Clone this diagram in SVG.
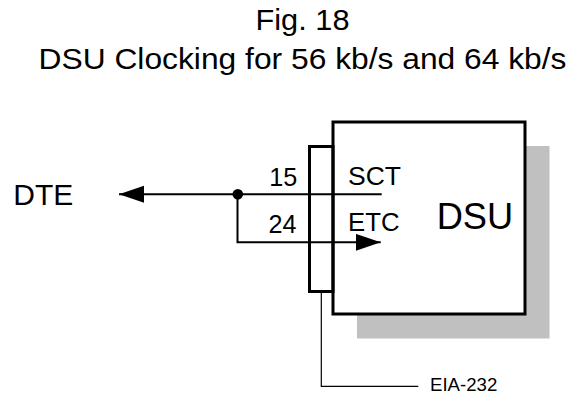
<svg xmlns="http://www.w3.org/2000/svg" width="570" height="394" viewBox="0 0 570 394">
<style>
text{font-family:"Liberation Sans",Arial,sans-serif;fill:#000}
.thick{fill:none;stroke:#000;stroke-width:3}
.box{fill:#fff;stroke:#000;stroke-width:3}
.wire{fill:none;stroke:#000;stroke-width:2}
.thin{fill:none;stroke:#000;stroke-width:1.2}
</style>
<defs>
<marker id="ah" markerUnits="userSpaceOnUse" markerWidth="26" markerHeight="18" refX="25" refY="8.5" orient="auto">
<path d="M0,0 L25,8.5 L0,17 Z" fill="#000"/>
</marker>
</defs>
<rect width="570" height="394" fill="#fff"/>
<g id="title">
<text x="302.5" y="30" font-size="30" text-anchor="middle" textLength="94" lengthAdjust="spacingAndGlyphs">Fig. 18</text>
<text x="302.5" y="69.3" font-size="30" text-anchor="middle" textLength="528" lengthAdjust="spacingAndGlyphs">DSU Clocking for 56 kb/s and 64 kb/s</text>
</g>
<g id="dsu">
<rect x="357" y="146" width="192.5" height="192.5" fill="#c0c0c0"/>
<rect x="333" y="122" width="192" height="192" class="box"/>
<text x="436.7" y="229" font-size="36" textLength="76.5" lengthAdjust="spacingAndGlyphs">DSU</text>
</g>
<g id="dte">
<text x="13.3" y="205" font-size="30" textLength="60" lengthAdjust="spacingAndGlyphs">DTE</text>
</g>
<g id="connectors">
<path class="wire" d="M237.5,194.3 H119" marker-end="url(#ah)"/>
<path class="wire" d="M237.5,194.3 H381.7"/>
<path class="wire" d="M237.5,194.3 V242.3 H380.7" marker-end="url(#ah)"/>
<circle cx="237.8" cy="194.3" r="5.3" fill="#000"/>
<path class="thin" d="M321.3,292 V386.3 H418.3"/>
</g>
<g id="eia232">
<rect x="309.5" y="146.5" width="23.5" height="145" class="thick"/>
<text x="430" y="391" font-size="19" textLength="67.3" lengthAdjust="spacingAndGlyphs">EIA-232</text>
</g>
<g id="labels">
<text x="269.3" y="186" font-size="25" textLength="28" lengthAdjust="spacingAndGlyphs">15</text>
<text x="268.5" y="232.7" font-size="25" textLength="28" lengthAdjust="spacingAndGlyphs">24</text>
<text x="348" y="184.5" font-size="25" textLength="53" lengthAdjust="spacingAndGlyphs">SCT</text>
<text x="348" y="231" font-size="25" textLength="51.5" lengthAdjust="spacingAndGlyphs">ETC</text>
</g>
</svg>
